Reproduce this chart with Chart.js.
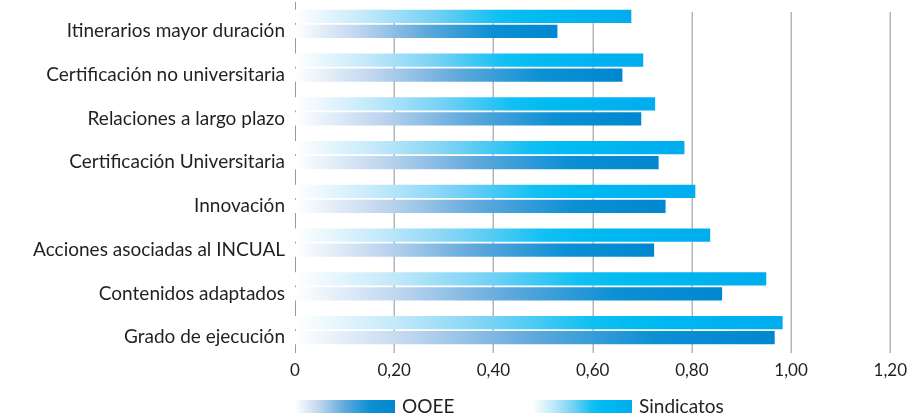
<!DOCTYPE html>
<html>
<head>
<meta charset="utf-8">
<script src="https://cdn.jsdelivr.net/npm/chart.js@4"></script>
<style>
  html, body { margin: 0; padding: 0; background: #ffffff; }
  #wrap { width: 915px; height: 418px; position: relative; }
</style>
</head>
<body>
<div id="wrap"><canvas id="chart"></canvas></div>
<script>
// Chart data
const categories = [
  "Itinerarios mayor duración",
  "Certificación no universitaria",
  "Relaciones a largo plazo",
  "Certificación Universitaria",
  "Innovación",
  "Acciones asociadas al INCUAL",
  "Contenidos adaptados",
  "Grado de ejecución",
];
const sindicatos = [0.678, 0.702, 0.726, 0.785, 0.807, 0.837, 0.950, 0.983];
const ooee = [0.529, 0.660, 0.698, 0.733, 0.747, 0.724, 0.861, 0.967];
const xTickLabels = ["0", "0,20", "0,40", "0,60", "0,80", "1,00", "1,20"];

const TEXT = "#231f20";
const FONT = "Lato";

// gradient stops: white at the bar's base, full colour towards the end
const ooeeStops = [
  [0, "#ffffff"],
  [0.25, "#bcd4ee"],
  [0.5, "#5fa8dc"],
  [0.75, "#0c90d4"],
  [1, "#0087cf"],
];
const sindStops = [
  [0, "#ffffff"],
  [0.2, "#c5eafa"],
  [0.4, "#7ad2f5"],
  [0.6, "#12c0f3"],
  [0.7, "#00bbf2"],
  [1, "#00acee"],
];

function makeGradient(ctx, x0, x1, stops) {
  const g = ctx.createLinearGradient(x0, 0, x1, 0);
  stops.forEach(([o, c]) => g.addColorStop(o, c));
  return g;
}

function barGradient(stops) {
  return (context) => {
    const { ctx, chartArea, scales } = context.chart;
    if (!chartArea || context.type !== "data") return stops[stops.length - 1][1];
    const x0 = scales.x.getPixelForValue(0);
    const x1 = scales.x.getPixelForValue(context.raw);
    return makeGradient(ctx, x0, x1, stops);
  };
}

// grid lines start a little below the top of the plot, like the original
const shortGrid = {
  id: "shortGrid",
  beforeDatasetsDraw(chart) {
    const { ctx, chartArea, scales } = chart;
    ctx.save();
    ctx.strokeStyle = "#b5b5b5";
    ctx.lineWidth = 1.5;
    scales.x.ticks.forEach((t) => {
      if (t.value === 0) return;
      const x = Math.round(scales.x.getPixelForValue(t.value)) + 0.25;
      ctx.beginPath();
      ctx.moveTo(x, chartArea.top + 10);
      ctx.lineTo(x, chartArea.bottom + 1);
      ctx.stroke();
    });
    ctx.restore();
  },
};

// legend with gradient swatches, OOEE first
const legendOrder = [1, 0];
const gradientLegend = {
  id: "gradientLegend",
  afterDraw(chart) {
    const { ctx, chartArea } = chart;
    const top = chartArea.bottom + 48;
    ctx.save();
    legendOrder.forEach((dsIndex, i) => {
      const ds = chart.data.datasets[dsIndex];
      const left = chartArea.left + i * 237;
      ctx.fillStyle = makeGradient(ctx, left, left + 100, ds.stops);
      ctx.fillRect(left, top, 100, 13);
      ctx.fillStyle = TEXT;
      ctx.font = "19px " + FONT;
      ctx.textBaseline = "middle";
      ctx.fillText(ds.label, left + 107, top + 7);
    });
    ctx.restore();
  },
};

const ctx = document.getElementById("chart").getContext("2d");

new Chart(ctx, {
  type: "bar",
  data: {
    labels: categories,
    datasets: [
      {
        label: "Sindicatos",
        data: sindicatos,
        stops: sindStops,
        backgroundColor: barGradient(sindStops),
      },
      {
        label: "OOEE",
        data: ooee,
        stops: ooeeStops,
        backgroundColor: barGradient(ooeeStops),
      },
    ],
  },
  options: {
    indexAxis: "y",
    responsive: true,
    maintainAspectRatio: false,
    animation: false,
    categoryPercentage: 0.686,
    barPercentage: 0.867,
    layout: { padding: { top: 2, right: 22, left: 0, bottom: 0 } },
    plugins: {
      legend: { display: false },
      tooltip: { enabled: false },
    },
    scales: {
      x: {
        min: 0,
        max: 1.2,
        ticks: {
          stepSize: 0.2,
          color: TEXT,
          font: { family: FONT, size: 17 },
          padding: 8,
          callback: (v, i) => xTickLabels[i],
        },
        grid: { display: false, drawTicks: false },
        border: { display: false },
        afterFit: (scale) => {
          scale.height = 66;
        },
      },
      y: {
        ticks: {
          color: TEXT,
          font: { family: FONT, size: 19 },
          padding: 10,
          labelOffset: 7,
        },
        grid: { display: false, drawTicks: false },
        border: { display: true, color: "#9a9a9a", width: 1 },
        afterFit: (scale) => {
          scale.width = 295;
          scale.paddingTop = 0;
          scale.paddingBottom = 0;
        },
      },
    },
  },
  plugins: [shortGrid, gradientLegend],
});
</script>
</body>
</html>
